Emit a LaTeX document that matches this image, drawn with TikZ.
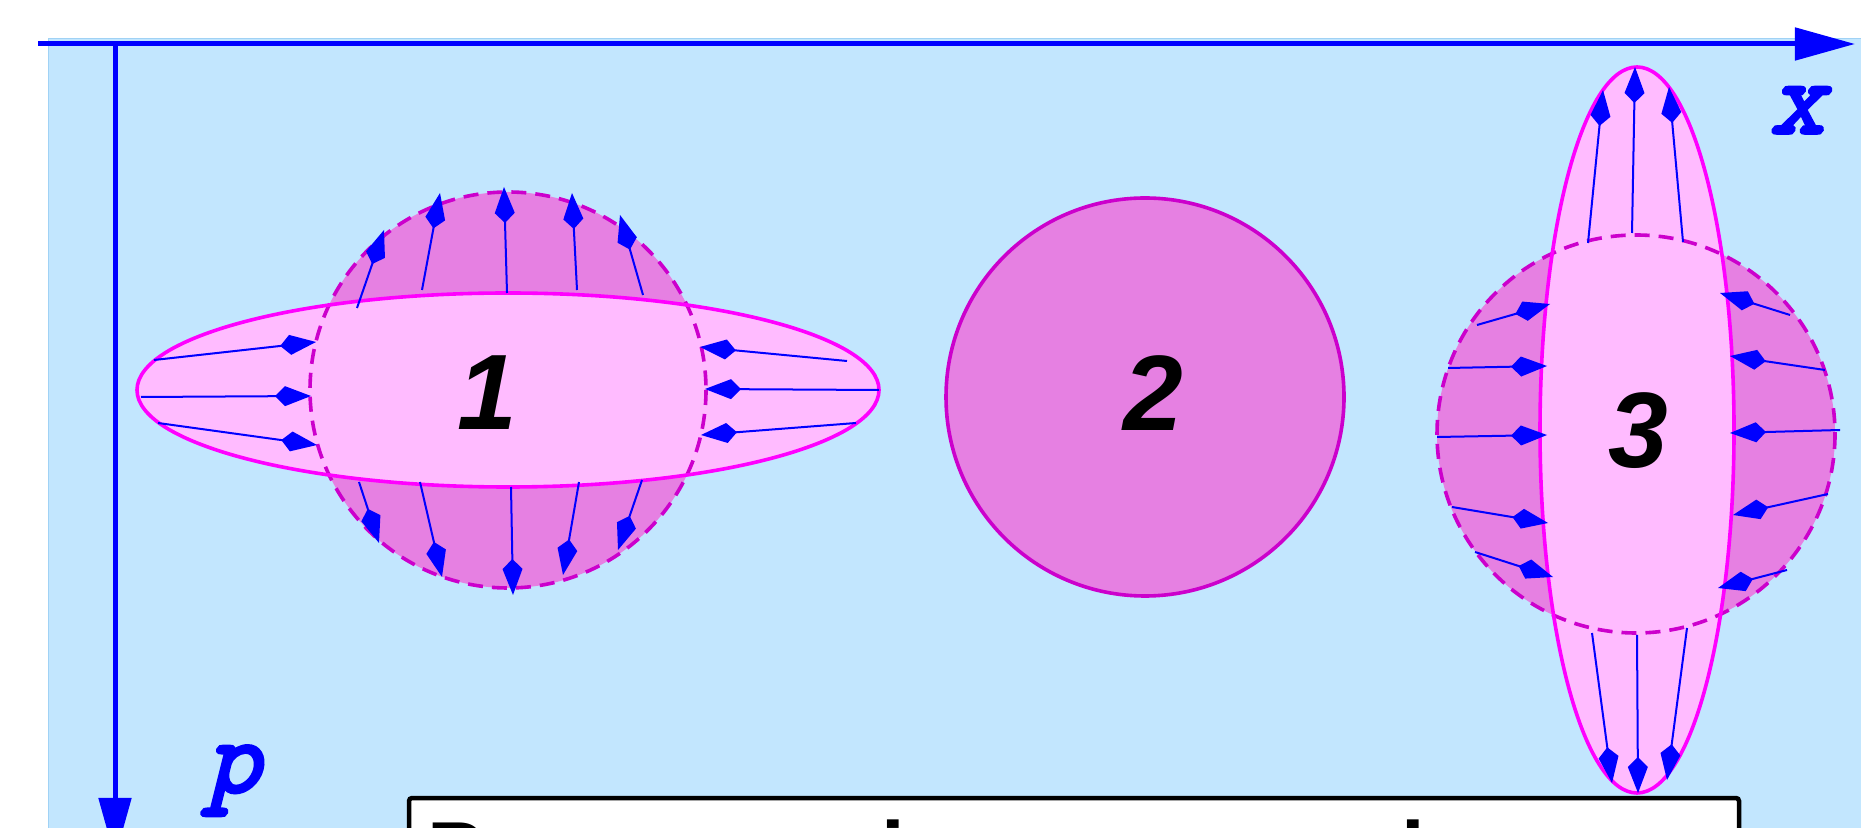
\documentclass[tikz,border=0pt]{standalone}
\usepackage{fontspec}
\newfontfamily\labelfont{Liberation Sans}
\newfontfamily\axisfont{Latin Modern Mono}[FakeBold=3.5,FakeSlant=0.25]
\usetikzlibrary{arrows.meta}

\definecolor{bgblue}{RGB}{194,230,254}
\definecolor{bgedge}{RGB}{160,210,245}
\definecolor{palepink}{RGB}{255,187,255}
\definecolor{deeppink}{RGB}{230,128,226}
\definecolor{rimpurple}{RGB}{204,0,204}
\definecolor{rimmagenta}{RGB}{255,0,255}

\begin{document}
\begin{tikzpicture}[
    x=0.01cm, y=-0.01cm,
    axisline/.style={
        draw=blue,
        line width=0.05cm,
        -{Triangle[length=0.6cm,width=0.32cm]}
    },
    disc/.style={
        fill=deeppink
    },
    squeezed/.style={
        fill=palepink
    },
    dashrim/.style={
        draw=rimpurple,
        line width=0.036cm,
        dash pattern=on 0.15cm off 0.09cm
    },
    solidrim/.style={
        draw=rimmagenta,
        line width=0.036cm
    },
    flowarrow/.style={
        draw=blue,
        line width=0.02cm,
        -{Kite[length=0.36cm,width=0.2cm,inset=0.1cm]}
    },
    statenum/.style={
        font=\labelfont\bfseries\itshape\fontsize{30.5}{36}\selectfont,
        inner sep=0pt,
        anchor=base
    },
    axislabel/.style={
        font=\axisfont\fontsize{30}{36}\selectfont,
        text=blue,
        inner sep=0pt,
        anchor=base
    },
    captionbox/.style={
        fill=white,
        draw=black,
        line width=0.045cm,
        rounded corners=0.03cm
    }
]

\useasboundingbox (0,0) rectangle (1861,828);

% --- Phase plane ---
\fill[bgblue, draw=bgedge, line width=0.01cm] (48,39) rectangle (1880,850);

\coordinate (xstart) at (38,44);
\coordinate (origin) at (115,44);
\coordinate (xend) at (1855,44);
\coordinate (pend) at (115,858);

\draw[axisline] (xstart) -- (xend);
\draw[axisline] (origin) -- (pend);

\node[axislabel] (xlab) at (1797,133) {x};
\node[axislabel] (plab) at (233,792) {p};

% --- State 1 (narrow in p) ---
\fill[disc] (508,390) circle[radius=198];
\fill[squeezed] (508,390) ellipse[x radius=371, y radius=97];
\draw[dashrim] (508,390) circle[radius=198];
\draw[solidrim] (508,390) ellipse[x radius=371, y radius=97];

\draw[flowarrow] (357,308) -- (384,230);
\draw[flowarrow] (422,290) -- (440,193);
\draw[flowarrow] (507,293) -- (504,187);
\draw[flowarrow] (577,290) -- (572,193);
\draw[flowarrow] (643,295) -- (620,215);

\draw[flowarrow] (359,482) -- (379,543);
\draw[flowarrow] (420,482) -- (442,577);
\draw[flowarrow] (511,487) -- (513,595);
\draw[flowarrow] (579,482) -- (563,575);
\draw[flowarrow] (642,480) -- (618,550);

\draw[flowarrow] (154,360) -- (316,342);
\draw[flowarrow] (141,397) -- (311,396);
\draw[flowarrow] (158,423) -- (317,445);
\draw[flowarrow] (847,361) -- (700,347);
\draw[flowarrow] (879,390) -- (705,389);
\draw[flowarrow] (856,423) -- (701,435);

\node[statenum] (one) at (487,430) {1};

% --- State 2 (round) ---
\draw[disc, draw=rimpurple, line width=0.036cm] (1145,397) circle[radius=199];
\node[statenum] (two) at (1153,431) {2};

% --- State 3 (narrow in x) ---
\fill[disc] (1636,434) circle[radius=199];
\fill[squeezed] (1637,430) ellipse[x radius=97, y radius=363];
\draw[dashrim] (1636,434) circle[radius=199];
\draw[solidrim] (1637,430) ellipse[x radius=97, y radius=363];

\draw[flowarrow] (1588,243) -- (1603,90);
\draw[flowarrow] (1632,233) -- (1635,67);
\draw[flowarrow] (1683,242) -- (1669,87);

\draw[flowarrow] (1592,633) -- (1612,783);
\draw[flowarrow] (1637,635) -- (1638,793);
\draw[flowarrow] (1687,628) -- (1667,780);

\draw[flowarrow] (1477,325) -- (1550,304);
\draw[flowarrow] (1448,368) -- (1547,366);
\draw[flowarrow] (1437,437) -- (1547,435);
\draw[flowarrow] (1452,507) -- (1548,523);
\draw[flowarrow] (1475,552) -- (1553,577);
\draw[flowarrow] (1790,315) -- (1720,293);
\draw[flowarrow] (1825,370) -- (1730,356);
\draw[flowarrow] (1840,430) -- (1730,433);
\draw[flowarrow] (1828,494) -- (1733,515);
\draw[flowarrow] (1787,570) -- (1718,588);

\node[statenum] (three) at (1638,468) {3};

% --- Caption box, cut by the lower edge ---
\draw[captionbox] (409,798) rectangle (1739,900);
\node[font=\labelfont\bfseries\fontsize{24.2}{29}\selectfont, inner sep=0pt, anchor=base west] (caption) at (427,881) {Pre-squeezing versus a laser};

\end{tikzpicture}
\end{document}
